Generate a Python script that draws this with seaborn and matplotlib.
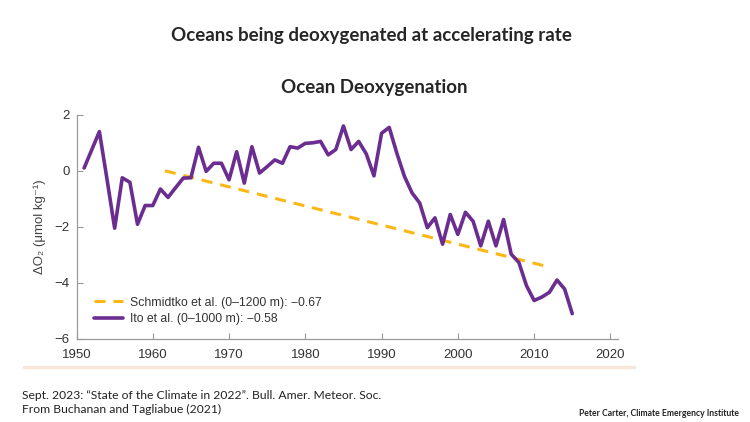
import numpy as np
import matplotlib
matplotlib.use('Agg')
import matplotlib.pyplot as plt
import seaborn as sns
import pandas as pd

# Ito et al. (0-1000 m) annual O2 anomaly
ito_years = list(range(1951, 2016))
ito_vals = [0.1, 0.75, 1.4, -0.3, -2.05, -0.25, -0.41, -1.91, -1.24, -1.24,
            -0.65, -0.95, -0.6, -0.26, -0.25, 0.84, -0.02, 0.27, 0.27, -0.32,
            0.68, -0.44, 0.86, -0.08, 0.15, 0.39, 0.27, 0.86, 0.81, 0.98,
            1.0, 1.05, 0.57, 0.76, 1.6, 0.76, 1.05, 0.6, -0.18, 1.34,
            1.55, 0.63, -0.2, -0.79, -1.15, -2.03, -1.68, -2.62, -1.56, -2.27,
            -1.48, -1.8, -2.68, -1.8, -2.68, -1.74, -2.98, -3.27, -4.1, -4.63,
            -4.51, -4.34, -3.9, -4.22, -5.1]

# Schmidtko et al. (0-1200 m) linear trend
schmidtko_years = [1961.6, 2012.2]
schmidtko_vals = [0.0, -3.45]

x_ticks = [1950, 1960, 1970, 1980, 1990, 2000, 2010, 2020]
y_ticks = [2, 0, -2, -4, -6]

title = 'Oceans being deoxygenated at accelerating rate'
subtitle = 'Ocean Deoxygenation'
label_schmidtko = 'Schmidtko et al. (0\u20131200 m): \u22120.67'
label_ito = 'Ito et al. (0\u20131000 m): \u22120.58'
note1 = 'Sept. 2023: \u201cState of the Climate in 2022\u201d. Bull. Amer. Meteor. Soc.'
note2 = 'From Buchanan and Tagliabue (2021)'
credit = 'Peter Carter, Climate Emergency Institute'

purple = '#6b2d8f'
orange = '#fbb814'

sns.set_style('ticks')
plt.rcParams['font.family'] = ['Liberation Sans', 'DejaVu Sans']

fig = plt.figure(figsize=(7.5, 4.22), dpi=100)
ax = fig.add_axes([0.102, 0.197, 0.722, 0.531])

ito = pd.DataFrame({'year': ito_years, 'o2': ito_vals})
sch = pd.DataFrame({'year': schmidtko_years, 'o2': schmidtko_vals})

sns.lineplot(data=sch, x='year', y='o2', ax=ax, color=orange, lw=2.2,
             dashes=False, label=label_schmidtko)
ax.lines[-1].set_dashes([3.6, 2.6])
sns.lineplot(data=ito, x='year', y='o2', ax=ax, color=purple, lw=2.6,
             label=label_ito)

ax.set_xlim(1950, 2021)
ax.set_ylim(-6, 2)
ax.set_xticks(x_ticks)
ax.set_yticks(y_ticks)
ax.set_yticklabels([str(v).replace('-', '\u2212') for v in y_ticks])
ax.tick_params(direction='in', length=4, width=0.8, colors='#999999',
               labelcolor='#333333', labelsize=9.5)
ax.tick_params(axis='x', pad=7)
ax.tick_params(axis='y', pad=5)
ax.set_xlabel('')
ax.set_ylabel('\u0394O\u2082 (\u03bcmol kg\u207b\u00b9)', color='#444444',
              fontsize=9.5, labelpad=6)
sns.despine(ax=ax)
for s in ['left', 'bottom']:
    ax.spines[s].set_color('#9a9a9a')
    ax.spines[s].set_linewidth(0.9)

leg = ax.legend(loc='lower left', bbox_to_anchor=(0.018, 0.03), frameon=False,
                fontsize=8.8, handlelength=2.4, handletextpad=0.6,
                labelspacing=0.35, borderaxespad=0.2)
for t in leg.get_texts():
    t.set_color('#333333')

# pale rule under the chart
fig.add_artist(plt.Line2D([0.032, 0.845], [0.131, 0.131], color='#f7e6da',
                          lw=2.5, transform=fig.transFigure))

bold_font = ['Lato', 'DejaVu Sans']
fig.text(0.495, 0.915, title, ha='center', va='center', fontsize=13.5,
         fontweight='bold', family=bold_font)
fig.text(0.499, 0.792, subtitle, ha='center', va='center', fontsize=13.5,
         fontweight='bold', family=bold_font)
fig.text(0.03, 0.062, note1, ha='left', va='center', fontsize=8.7,
         family=['Lato', 'DejaVu Sans'], color='#222222')
fig.text(0.03, 0.030, note2, ha='left', va='center', fontsize=8.7,
         family=['Lato', 'DejaVu Sans'], color='#222222')
fig.text(0.985, 0.019, credit, ha='right', va='center', fontsize=6.2,
         fontweight='bold', family=bold_font, color='#222222')

fig.savefig('out.png', dpi=100)
